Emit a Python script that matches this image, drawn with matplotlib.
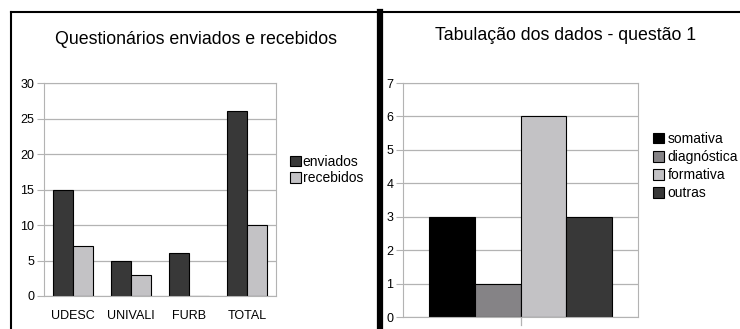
import numpy as np
import matplotlib.pyplot as plt
from matplotlib.lines import Line2D

# chart 1 data
universidades = ['UDESC', 'UNIVALI', 'FURB', 'TOTAL']
enviados = [15, 5, 6, 26]
recebidos = [7, 3, 0, 10]

# chart 2 data
tipos = ['somativa', 'diagnóstica', 'formativa', 'outras']
respostas = [3, 1, 6, 3]
cores_tipos = ['#000000', '#858386', '#c3c2c5', '#383838']

W, H = 740, 329
fig = plt.figure(figsize=(W / 100, H / 100), dpi=100)
plt.rcParams['font.family'] = ['Liberation Sans', 'DejaVu Sans']


def box(x0, y0, x1, y1):
    # pixel coords (top-left origin) -> figure fraction
    return [x0 / W, 1 - y1 / H, (x1 - x0) / W, (y1 - y0) / H]


def style(ax):
    ax.set_axisbelow(True)
    ax.yaxis.grid(True, color='#b3b3b3', lw=0.9)
    for s in ['top', 'right', 'bottom', 'left']:
        ax.spines[s].set_color('#b3b3b3')
    ax.tick_params(axis='y', length=5, color='#b3b3b3', labelsize=9, pad=2)
    ax.tick_params(axis='x', length=0, labelsize=9, pad=10)


# ---------- left chart ----------
ax1 = fig.add_axes(box(44, 83, 276, 296))
x = np.arange(len(universidades))
w = 0.345
ax1.bar(x - w / 2, enviados, w, color='#383838', edgecolor='black', lw=0.8, label='enviados')
ax1.bar(x + w / 2, recebidos, w, color='#c3c2c5', edgecolor='black', lw=0.8, label='recebidos')
ax1.set_xlim(-0.5, len(universidades) - 0.5)
ax1.set_ylim(0, 30)
ax1.set_yticks(range(0, 31, 5))
ax1.set_xticks(x)
ax1.set_xticklabels(universidades)
style(ax1)
fig.text(196 / W, 1 - 40 / H, 'Questionários enviados e recebidos', ha='center', va='center', fontsize=12.8)
ax1.legend(loc='upper left', bbox_to_anchor=(290 / W, 1 - 155 / H), bbox_transform=fig.transFigure,
           frameon=False, fontsize=10, handlelength=0.8, handleheight=0.8, handletextpad=0.1,
           labelspacing=0.15, borderpad=0, borderaxespad=0)

# ---------- right chart ----------
ax2 = fig.add_axes(box(403, 83, 638, 317))
bw = 0.195
pos = (np.arange(len(tipos)) - 1.5) * bw
for p, v, c, t in zip(pos, respostas, cores_tipos, tipos):
    ax2.bar(p, v, bw, color=c, edgecolor='black', lw=0.8, label=t)
ax2.set_xlim(-0.5, 0.5)
ax2.set_ylim(0, 7)
ax2.set_yticks(range(0, 8))
ax2.set_xticks([])
style(ax2)
ax2.plot([0, 0], [0, -0.035], transform=ax2.get_xaxis_transform(), color='#b3b3b3', lw=0.9, clip_on=False)
fig.text(566 / W, 1 - 35 / H, 'Tabulação dos dados - questão 1', ha='center', va='center', fontsize=12.8)
ax2.legend(loc='upper left', bbox_to_anchor=(653 / W, 1 - 132 / H), bbox_transform=fig.transFigure,
           frameon=False, fontsize=10, handlelength=0.8, handleheight=0.8, handletextpad=0.25,
           labelspacing=0.3, borderpad=0, borderaxespad=0)

# ---------- panel borders ----------
fig.add_artist(Line2D([11 / W, 11 / W], [0, 1 - 12 / H], color='black', lw=1.5))
fig.add_artist(Line2D([11 / W, 1], [1 - 12 / H, 1 - 12 / H], color='black', lw=1.5))
fig.add_artist(Line2D([380 / W, 380 / W], [0, 1 - 12 / H], color='black', lw=4.5))

fig.savefig('out.png', dpi=100)
